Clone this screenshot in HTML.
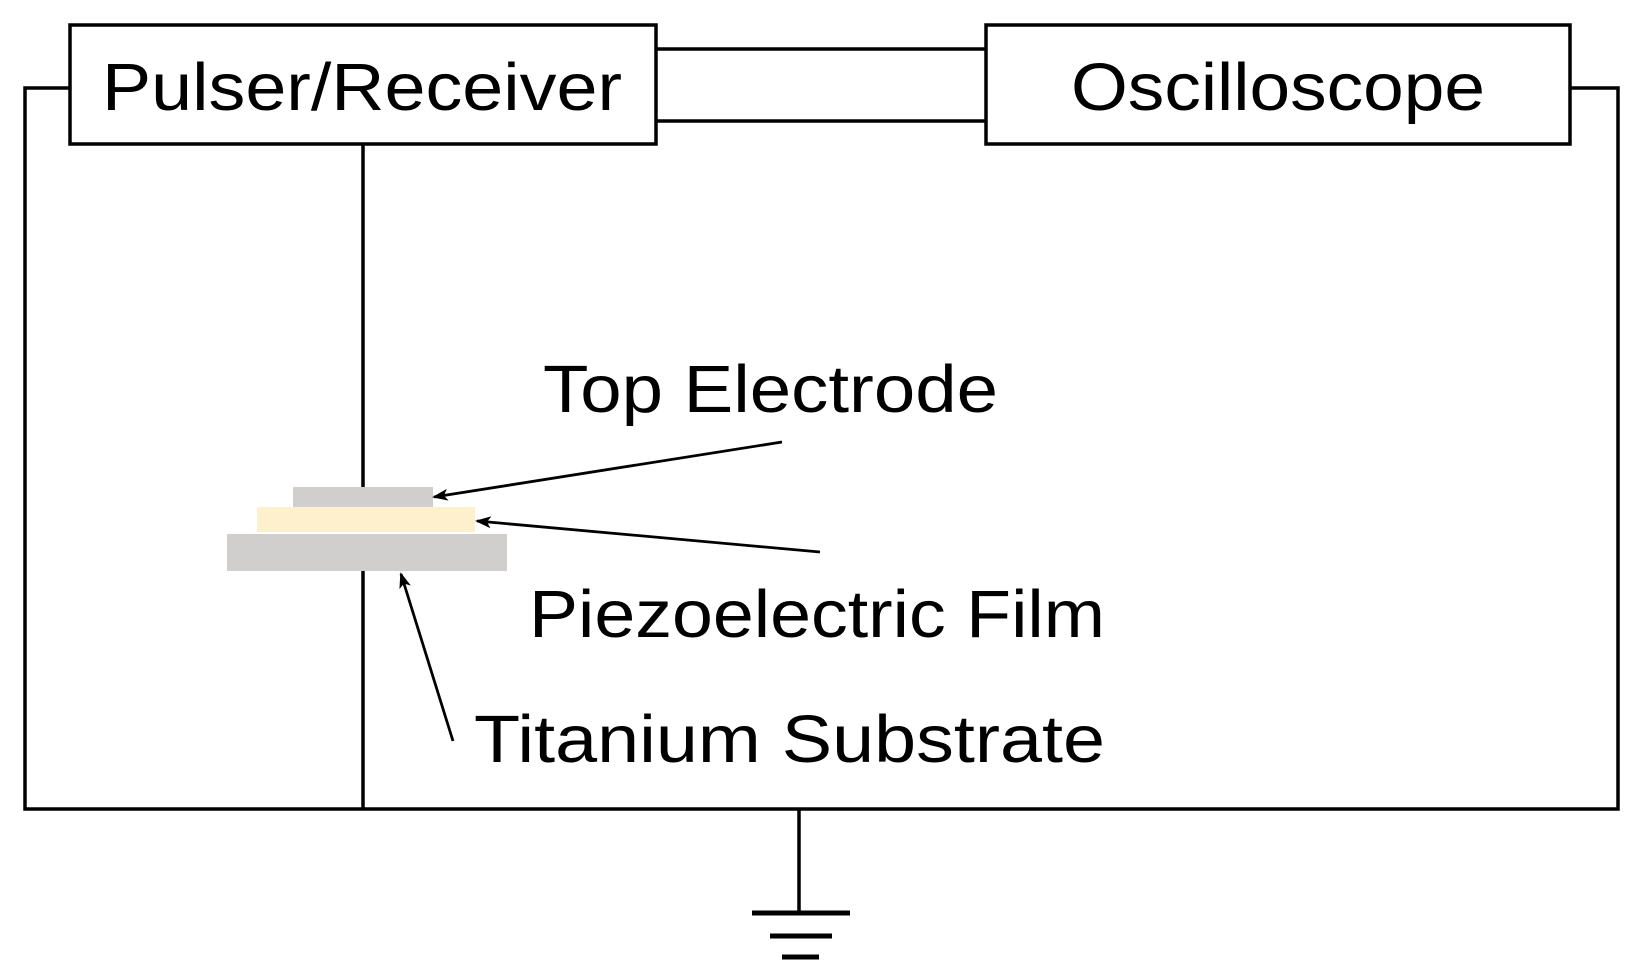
<!DOCTYPE html>
<html><head><style>body{margin:0;background:#fff}svg{display:block}</style></head>
<body>
<svg width="1633" height="971" viewBox="0 0 1633 971" xmlns="http://www.w3.org/2000/svg">
<defs><marker id="a" markerWidth="16" markerHeight="12" refX="14" refY="6" orient="auto" markerUnits="userSpaceOnUse"><path d="M0,0 L16,6 L0,12 L4,6 z" fill="#000"/></marker></defs>
<g stroke="#000" stroke-width="3.5" fill="none">
<rect x="70" y="25" width="586" height="119" fill="#fff"/>
<rect x="986" y="25" width="584" height="119" fill="#fff"/>
<line x1="656" y1="49" x2="986" y2="49"/>
<line x1="656" y1="121" x2="986" y2="121"/>
<polyline points="70,88 25,88 25,809 1618,809 1618,88 1570,88"/>
<line x1="363" y1="144" x2="363" y2="487"/>
<line x1="363" y1="571" x2="363" y2="809"/>
<line x1="799" y1="809" x2="799" y2="913"/>
<line x1="752" y1="913" x2="850" y2="913" stroke-width="5"/>
<line x1="770" y1="936" x2="832" y2="936" stroke-width="5"/>
<line x1="782" y1="957" x2="819" y2="957" stroke-width="5"/>
</g>
<rect x="293" y="487" width="140" height="20" fill="#d0cfce"/>
<rect x="257" y="507" width="218" height="25" fill="#fef0cc"/>
<rect x="227" y="534" width="280" height="37" fill="#d0cfce"/>
<g stroke="#000" stroke-width="2.8" fill="none">
<line x1="782" y1="442" x2="434" y2="497" marker-end="url(#a)"/>
<line x1="820" y1="552" x2="477" y2="521" marker-end="url(#a)"/>
<line x1="453" y1="741" x2="401" y2="574" marker-end="url(#a)"/>
</g>
<g font-family="Liberation Sans, sans-serif" font-size="67" fill="#000">
<text x="102" y="110" textLength="520" lengthAdjust="spacingAndGlyphs">Pulser/Receiver</text>
<text x="1071" y="110" textLength="414" lengthAdjust="spacingAndGlyphs">Oscilloscope</text>
<text x="543" y="412" textLength="455" lengthAdjust="spacingAndGlyphs">Top Electrode</text>
<text x="529" y="637" textLength="576" lengthAdjust="spacingAndGlyphs">Piezoelectric Film</text>
<text x="474" y="762" textLength="631" lengthAdjust="spacingAndGlyphs">Titanium Substrate</text>
</g>
</svg>
</body></html>
